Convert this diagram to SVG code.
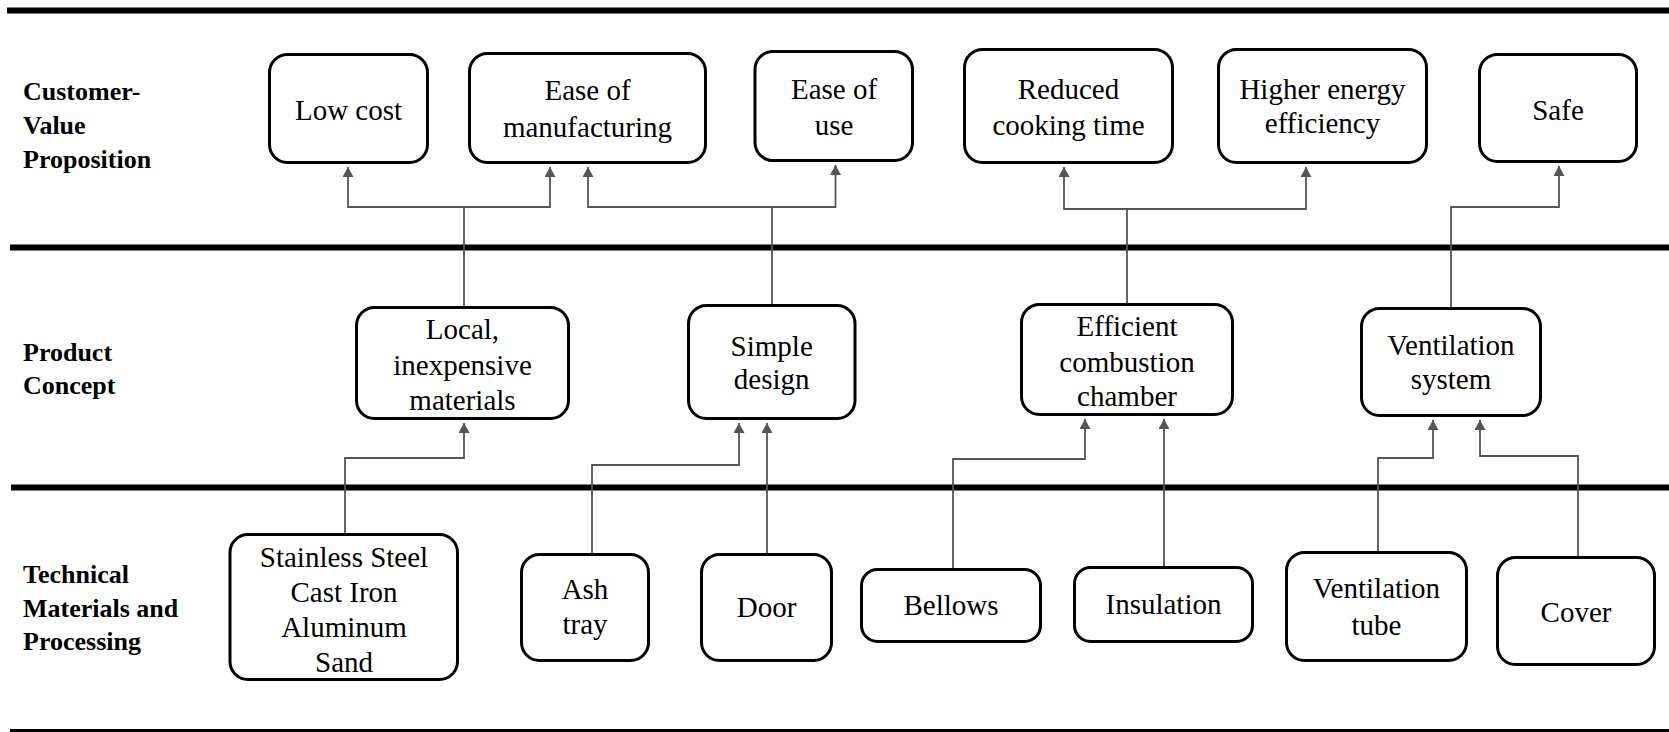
<svg xmlns="http://www.w3.org/2000/svg" width="1669" height="732" viewBox="0 0 1669 732">
<style>
.band{stroke:#000;stroke-width:6;fill:none}
.box{fill:#fff;stroke:#000;stroke-width:3}
.t{font-family:"Liberation Serif","Times New Roman",serif;font-size:29px;fill:#000;text-anchor:middle}
.lbl{font-family:"Liberation Serif","Times New Roman",serif;font-size:26px;font-weight:bold;fill:#000}
.c{fill:none;stroke:#555;stroke-width:1.8}
</style>
<defs>
<marker id="ah" markerUnits="userSpaceOnUse" markerWidth="10" markerHeight="11" refX="10" refY="5.5" orient="auto">
<path d="M0,0 L10,5.5 L0,11 z" fill="#555"/>
</marker>
</defs>
<g id="bands">
<line class="band" x1="7" y1="10.5" x2="1669" y2="10.5"/>
<line class="band" x1="10" y1="247.5" x2="1669" y2="247.5"/>
<line class="band" x1="11" y1="487.5" x2="1669" y2="487.5"/>
<line class="band" x1="10" y1="731" x2="1669" y2="731" style="stroke-width:4"/>
</g>
<g id="row-labels">
<text class="lbl" x="23" y="100">Customer-</text>
<text class="lbl" x="23" y="134">Value</text>
<text class="lbl" x="23" y="168">Proposition</text>
<text class="lbl" x="23" y="361">Product</text>
<text class="lbl" x="23" y="394">Concept</text>
<text class="lbl" x="23" y="583">Technical</text>
<text class="lbl" x="23" y="617">Materials and</text>
<text class="lbl" x="23" y="650">Processing</text>
</g>
<g id="connectors">
<path class="c" d="M464,306 V207 H348 V167" marker-end="url(#ah)"/>
<path class="c" d="M464,207 H550 V167" marker-end="url(#ah)"/>
<path class="c" d="M772,304 V207 H588 V167" marker-end="url(#ah)"/>
<path class="c" d="M772,207 H835.5 V165" marker-end="url(#ah)"/>
<path class="c" d="M1127,303 V209 H1064 V167" marker-end="url(#ah)"/>
<path class="c" d="M1127,209 H1306 V167" marker-end="url(#ah)"/>
<path class="c" d="M1451,307 V207 H1559 V166" marker-end="url(#ah)"/>
<path class="c" d="M345,533 V458 H464 V423" marker-end="url(#ah)"/>
<path class="c" d="M592,553 V465 H739 V423" marker-end="url(#ah)"/>
<path class="c" d="M767,553 V423" marker-end="url(#ah)"/>
<path class="c" d="M953,568 V459 H1085 V419" marker-end="url(#ah)"/>
<path class="c" d="M1164,566 V419" marker-end="url(#ah)"/>
<path class="c" d="M1378,551 V458 H1433 V420" marker-end="url(#ah)"/>
<path class="c" d="M1578,556 V456 H1480 V420" marker-end="url(#ah)"/>
</g>
<g id="low-cost"><rect class="box" x="269.5" y="54.5" width="158" height="108" rx="18"/><text class="t" x="348.5" y="120">Low cost</text></g>
<g id="ease-manufacturing"><rect class="box" x="469.5" y="53.5" width="236" height="109" rx="18"/><text class="t" x="587.5" y="100">Ease of</text><text class="t" x="587.5" y="137">manufacturing</text></g>
<g id="ease-use"><rect class="box" x="755" y="51.5" width="157.5" height="109" rx="18"/><text class="t" x="834" y="99">Ease of</text><text class="t" x="834" y="135">use</text></g>
<g id="reduced-cooking"><rect class="box" x="964.5" y="49.5" width="208" height="113" rx="18"/><text class="t" x="1068.5" y="99">Reduced</text><text class="t" x="1068.5" y="135">cooking time</text></g>
<g id="higher-energy"><rect class="box" x="1218.5" y="49.5" width="208" height="113" rx="18"/><text class="t" x="1322.5" y="99">Higher energy</text><text class="t" x="1322.5" y="133">efficiency</text></g>
<g id="safe"><rect class="box" x="1479.5" y="54.5" width="157" height="107" rx="18"/><text class="t" x="1558" y="120">Safe</text></g>
<g id="local-materials"><rect class="box" x="356.5" y="307.5" width="212" height="111" rx="18"/><text class="t" x="462.5" y="339">Local,</text><text class="t" x="462.5" y="375">inexpensive</text><text class="t" x="462.5" y="410">materials</text></g>
<g id="simple-design"><rect class="box" x="688.5" y="305.5" width="166.5" height="113" rx="18"/><text class="t" x="771.7" y="356">Simple</text><text class="t" x="771.7" y="389">design</text></g>
<g id="combustion-chamber"><rect class="box" x="1021.5" y="304.5" width="211" height="110" rx="18"/><text class="t" x="1127" y="336">Efficient</text><text class="t" x="1127" y="372">combustion</text><text class="t" x="1127" y="406">chamber</text></g>
<g id="ventilation-system"><rect class="box" x="1361.5" y="308.5" width="179" height="107" rx="18"/><text class="t" x="1451" y="355">Ventilation</text><text class="t" x="1451" y="389">system</text></g>
<g id="stainless"><rect class="box" x="230" y="534.5" width="227.5" height="145" rx="18"/><text class="t" x="344" y="567">Stainless Steel</text><text class="t" x="344" y="602">Cast Iron</text><text class="t" x="344" y="637">Aluminum</text><text class="t" x="344" y="672">Sand</text></g>
<g id="ash-tray"><rect class="box" x="521.5" y="554.5" width="127" height="106" rx="18"/><text class="t" x="585" y="599">Ash</text><text class="t" x="585" y="634">tray</text></g>
<g id="door"><rect class="box" x="701.5" y="554.5" width="130" height="106" rx="18"/><text class="t" x="766.5" y="617">Door</text></g>
<g id="bellows"><rect class="box" x="861.5" y="569.5" width="179" height="72" rx="16"/><text class="t" x="951" y="615">Bellows</text></g>
<g id="insulation"><rect class="box" x="1074.5" y="567.5" width="178" height="74" rx="16"/><text class="t" x="1163.5" y="614">Insulation</text></g>
<g id="ventilation-tube"><rect class="box" x="1286.5" y="552.5" width="180" height="108" rx="18"/><text class="t" x="1376.5" y="598">Ventilation</text><text class="t" x="1376.5" y="635">tube</text></g>
<g id="cover"><rect class="box" x="1497.5" y="557.5" width="157" height="107" rx="18"/><text class="t" x="1576" y="622">Cover</text></g>
</svg>
